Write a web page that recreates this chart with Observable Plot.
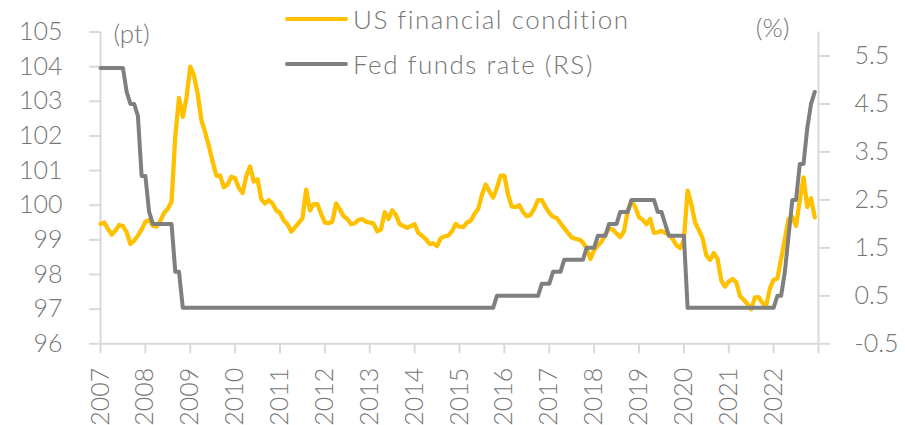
<!DOCTYPE html>
<html>
<head>
<meta charset="utf-8">
<script src="https://cdn.jsdelivr.net/npm/d3@7"></script>
<script src="https://cdn.jsdelivr.net/npm/@observablehq/plot@0.6"></script>
<style>
  html, body { margin: 0; padding: 0; background: #fff; }
  #wrap { position: relative; width: 905px; height: 425px; font-family: Lato, "Open Sans", sans-serif; font-weight: 300; color: #767676; }
  .leg { position: absolute; left: 285px; display: flex; align-items: center; font-size: 26px; letter-spacing: 1.5px; line-height: 1; white-space: nowrap; }
  .sw { width: 63px; height: 4px; border-radius: 2px; margin-right: 5px; }
  svg text { font-weight: 300; }
</style>
</head>
<body>
<div id="wrap">
  <div id="chart"></div>
  <div class="leg" style="top:6px"><div class="sw" style="background:#FFC000"></div><span>US financial condition</span></div>
  <div class="leg" style="top:51px"><div class="sw" style="background:#7F7F7F"></div><span>Fed funds rate (RS)</span></div>
</div>
<script>
// Year labels (one tick every 12 months, index 0 = start of 2007)
const years = ["2007","2008","2009","2010","2011","2012","2013","2014","2015","2016","2017","2018","2019","2020","2021","2022"];

// US financial condition index (pt, left scale), monthly
const fci = [
  99.46, 99.50, 99.32, 99.15, 99.27, 99.43, 99.40, 99.22, 98.88, 98.98, 99.12, 99.30,
  99.52, 99.58, 99.40, 99.38, 99.55, 99.78, 99.90, 100.10, 102.00, 103.10, 102.55, 103.10,
  104.00, 103.75, 103.20, 102.45, 102.10, 101.70, 101.25, 100.85, 100.85, 100.52, 100.60, 100.82,
  100.78, 100.50, 100.35, 100.85, 101.12, 100.68, 100.75, 100.17, 100.05, 100.15, 100.05, 99.85,
  99.78, 99.56, 99.45, 99.24, 99.36, 99.49, 99.62, 100.45, 99.85, 100.03, 100.03, 99.75,
  99.50, 99.48, 99.53, 100.05, 99.88, 99.68, 99.60, 99.45, 99.48, 99.58, 99.60, 99.52,
  99.50, 99.47, 99.25, 99.30, 99.80, 99.60, 99.85, 99.72, 99.45, 99.40, 99.35, 99.40,
  99.45, 99.20, 99.12, 99.02, 98.88, 98.90, 98.82, 99.05, 99.10, 99.12, 99.25, 99.46,
  99.38, 99.37, 99.50, 99.55, 99.75, 99.90, 100.30, 100.60, 100.40, 100.22, 100.50, 100.85,
  100.85, 100.30, 99.96, 99.95, 100.00, 99.80, 99.68, 99.72, 99.90, 100.15, 100.15, 99.95,
  99.78, 99.67, 99.63, 99.48, 99.34, 99.20, 99.07, 99.03, 99.01, 98.93, 98.75, 98.45,
  98.70, 98.84, 98.95, 99.15, 99.33, 99.30, 99.18, 99.08, 99.25, 99.85, 100.12, 99.95,
  99.65, 99.58, 99.45, 99.60, 99.20, 99.22, 99.26, 99.20, 99.14, 99.03, 98.85, 98.76,
  99.00, 100.42, 100.03, 99.50, 99.28, 99.05, 98.55, 98.42, 98.62, 98.45, 97.83, 97.65,
  97.80, 97.87, 97.78, 97.38, 97.27, 97.15, 97.00, 97.34, 97.35, 97.18, 97.10, 97.60,
  97.85, 97.88, 98.45, 99.02, 99.60, 99.66, 99.40, 100.15, 100.80, 99.95, 100.20, 99.65
];

// Fed funds rate (%, right scale), monthly
const ffr = [
  5.25, 5.25, 5.25, 5.25, 5.25, 5.25, 5.25, 4.75, 4.5, 4.5, 4.25, 3.0,
  3.0, 2.25, 2.0, 2.0, 2.0, 2.0, 2.0, 2.0, 1.0, 1.0, 0.25, 0.25,
  0.25, 0.25, 0.25, 0.25, 0.25, 0.25, 0.25, 0.25, 0.25, 0.25, 0.25, 0.25,
  0.25, 0.25, 0.25, 0.25, 0.25, 0.25, 0.25, 0.25, 0.25, 0.25, 0.25, 0.25,
  0.25, 0.25, 0.25, 0.25, 0.25, 0.25, 0.25, 0.25, 0.25, 0.25, 0.25, 0.25,
  0.25, 0.25, 0.25, 0.25, 0.25, 0.25, 0.25, 0.25, 0.25, 0.25, 0.25, 0.25,
  0.25, 0.25, 0.25, 0.25, 0.25, 0.25, 0.25, 0.25, 0.25, 0.25, 0.25, 0.25,
  0.25, 0.25, 0.25, 0.25, 0.25, 0.25, 0.25, 0.25, 0.25, 0.25, 0.25, 0.25,
  0.25, 0.25, 0.25, 0.25, 0.25, 0.25, 0.25, 0.25, 0.25, 0.25, 0.5, 0.5,
  0.5, 0.5, 0.5, 0.5, 0.5, 0.5, 0.5, 0.5, 0.5, 0.5, 0.75, 0.75,
  0.75, 1.0, 1.0, 1.0, 1.25, 1.25, 1.25, 1.25, 1.25, 1.25, 1.5, 1.5,
  1.5, 1.75, 1.75, 1.75, 2.0, 2.0, 2.0, 2.25, 2.25, 2.25, 2.5, 2.5,
  2.5, 2.5, 2.5, 2.5, 2.5, 2.25, 2.25, 2.0, 1.75, 1.75, 1.75, 1.75,
  1.75, 0.25, 0.25, 0.25, 0.25, 0.25, 0.25, 0.25, 0.25, 0.25, 0.25, 0.25,
  0.25, 0.25, 0.25, 0.25, 0.25, 0.25, 0.25, 0.25, 0.25, 0.25, 0.25, 0.25,
  0.25, 0.5, 0.5, 1.0, 1.75, 2.5, 2.5, 3.25, 3.25, 4.0, 4.5, 4.75
];

const leftTicks = [96, 97, 98, 99, 100, 101, 102, 103, 104, 105];
const rightTicks = [-0.5, 0.5, 1.5, 2.5, 3.5, 4.5, 5.5];

const L0 = 96, L1 = 105, R0 = -0.5, R1 = 6;
const toLeft = r => L0 + (r - R0) * (L1 - L0) / (R1 - R0);
const toRight = v => R0 + (v - L0) * (R1 - R0) / (L1 - L0);

const fciData = fci.map((v, i) => ({i, v}));
const ffrData = ffr.map((r, i) => ({i, v: toLeft(r)}));
const xTicks = d3.range(0, years.length * 12 + 1, 12);

const axisColor = "#D9D9D9";
const textColor = "#767676";

const chart = Plot.plot({
  width: 905,
  height: 425,
  marginLeft: 100,
  marginRight: 87,
  marginTop: 31.5,
  marginBottom: 81.7,
  style: {fontFamily: "Lato, 'Open Sans', sans-serif", fontSize: "25px", color: textColor, background: "#fff"},
  x: {domain: [0, years.length * 12]},
  y: {domain: [L0, L1]},
  marks: [
    Plot.ruleX([0, years.length * 12], {stroke: axisColor, strokeWidth: 2}),
    Plot.ruleY([L0], {stroke: axisColor, strokeWidth: 2}),
    Plot.axisY(leftTicks, {anchor: "left", tickSize: 11, tickPadding: 27, stroke: axisColor, strokeWidth: 2, fill: textColor, fontSize: 25, label: null}),
    Plot.axisY(rightTicks.map(toLeft), {anchor: "right", tickSize: 11, tickPadding: 25, stroke: axisColor, strokeWidth: 2, fill: textColor, fontSize: 25, label: null,
      tickFormat: d => {const r = Math.round(toRight(d) * 10) / 10; return r.toFixed(1);} }),
    Plot.axisX(xTicks, {anchor: "bottom", tickSize: 10, tickPadding: 14, tickRotate: -90, stroke: axisColor, strokeWidth: 2, fill: textColor, fontSize: 25, label: null,
      tickFormat: d => years[d / 12] ?? ""}),
    Plot.text(["(pt)"], {frameAnchor: "top-left", dx: 13, dy: 3, textAnchor: "start", lineAnchor: "middle", fill: textColor, fontSize: 26, style: "letter-spacing:2px"}),
    Plot.text(["(%)"], {frameAnchor: "top-right", dx: -29, dy: -3, textAnchor: "end", lineAnchor: "middle", fill: textColor, fontSize: 26, style: "letter-spacing:2px"}),
    Plot.line(fciData, {x: "i", y: "v", stroke: "#FFC000", strokeWidth: 4.3, strokeLinejoin: "round", strokeLinecap: "round"}),
    Plot.line(ffrData, {x: "i", y: "v", stroke: "#7F7F7F", strokeWidth: 4, strokeLinejoin: "round", strokeLinecap: "round"})
  ]
});
document.getElementById("chart").appendChild(chart);
</script>
</body>
</html>
